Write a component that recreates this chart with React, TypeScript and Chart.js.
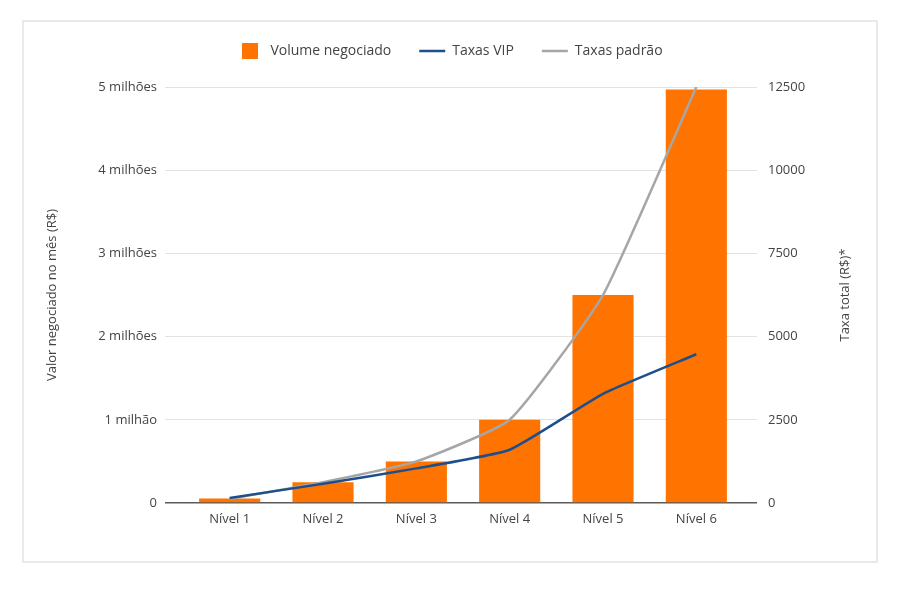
import { useEffect, useRef } from 'react';
import { Chart, registerables } from 'chart.js';

Chart.register(...registerables);

const levels = ['Nível 1', 'Nível 2', 'Nível 3', 'Nível 4', 'Nível 5', 'Nível 6'];
const volume = [55000, 250000, 500000, 1000000, 2500000, 4970000];
const vipFees = [150, 580, 1040, 1600, 3280, 4470];
const standardFees = [125, 625, 1250, 2500, 6250, 12500];

const leftTitle = 'Valor negociado no mês (R$)';
const rightTitle = 'Taxa total (R$)*';

const ORANGE = '#ff7300';
const BLUE = '#1d4f8c';
const GRAY = '#a6a6a6';
const TEXT = '#444444';
const FONT = '"Open Sans", sans-serif';

const gridColor = (ctx: any) => (ctx.tick && ctx.tick.value === 0 ? '#5a5a5a' : '#e2e2e2');
const gridWidth = (ctx: any) => (ctx.tick && ctx.tick.value === 0 ? 1.5 : 1);

function makeSquare() {
  const c = document.createElement('canvas');
  c.width = 16;
  c.height = 16;
  const g = c.getContext('2d');
  if (g) {
    g.fillStyle = ORANGE;
    g.fillRect(0, 0, 16, 16);
  }
  return c;
}

// keep the legend text high while leaving room before the plot area
const legendHeight = {
  id: 'legendHeight',
  beforeLayout(chart: any) {
    const lg = chart.legend;
    if (lg && !lg._patched) {
      const orig = lg.fit.bind(lg);
      lg.fit = () => {
        orig();
        lg.height = 71;
      };
      lg._patched = true;
    }
  },
};

// right axis title reads bottom-to-top like the left one
const rightAxisTitle = {
  id: 'rightAxisTitle',
  afterDraw(chart: any) {
    const s = chart.scales.y1;
    const { ctx, chartArea } = chart;
    ctx.save();
    ctx.translate(s.right - 31, (chartArea.top + chartArea.bottom) / 2);
    ctx.rotate(-Math.PI / 2);
    ctx.font = `13px ${FONT}`;
    ctx.fillStyle = TEXT;
    ctx.textAlign = 'center';
    ctx.textBaseline = 'middle';
    ctx.fillText(rightTitle, 0, 0);
    ctx.restore();
  },
};

export default function App() {
  const chartRef = useRef<HTMLCanvasElement>(null);

  useEffect(() => {
    if (!chartRef.current) return;

    const chart = new Chart(chartRef.current, {
      type: 'bar',
      data: {
        labels: levels,
        datasets: [
          {
            type: 'bar',
            label: 'Volume negociado',
            data: volume,
            backgroundColor: ORANGE,
            borderWidth: 0,
            barPercentage: 0.655,
            categoryPercentage: 1,
            yAxisID: 'y',
            order: 2,
            pointStyle: makeSquare(),
          },
          {
            type: 'line',
            label: 'Taxas VIP',
            data: vipFees,
            borderColor: BLUE,
            backgroundColor: BLUE,
            borderWidth: 2.5,
            pointRadius: 0,
            pointStyle: 'line',
            tension: 0.15,
            yAxisID: 'y1',
            order: 1,
          },
          {
            type: 'line',
            label: 'Taxas padrão',
            data: standardFees,
            borderColor: GRAY,
            backgroundColor: GRAY,
            borderWidth: 2.5,
            pointRadius: 0,
            pointStyle: 'line',
            tension: 0.15,
            yAxisID: 'y1',
            order: 1,
          },
        ],
      },
      options: {
        responsive: true,
        maintainAspectRatio: false,
        animation: false,
        layout: { padding: { top: -6, left: 0, right: 0, bottom: 0 } },
        plugins: {
          tooltip: { enabled: false },
          legend: {
            position: 'top',
            labels: {
              usePointStyle: true,
              pointStyleWidth: 26,
              padding: 28,
              color: TEXT,
              font: { family: FONT, size: 14 },
              sort: (a: any, b: any) => a.datasetIndex - b.datasetIndex,
            },
          },
        },
        scales: {
          x: {
            grid: { display: false, drawTicks: false },
            border: { display: false },
            ticks: { color: TEXT, padding: 8, font: { family: FONT, size: 13 } },
            afterFit: (s: any) => {
              s.height = 58;
            },
          },
          y: {
            position: 'left',
            min: 0,
            max: 5000000,
            ticks: {
              stepSize: 1000000,
              color: TEXT,
              padding: 8,
              font: { family: FONT, size: 13 },
              callback: (v: any) => (v === 0 ? '0' : v === 1000000 ? '1 milhão' : `${v / 1000000} milhões`),
            },
            grid: { color: gridColor, lineWidth: gridWidth, tickLength: 18 },
            border: { display: false },
            title: {
              display: true,
              text: leftTitle,
              color: TEXT,
              font: { family: FONT, size: 13 },
              padding: { top: 20, bottom: 0 },
            },
            afterFit: (s: any) => {
              s.width = 159;
            },
          },
          y1: {
            position: 'right',
            min: 0,
            max: 12500,
            ticks: {
              stepSize: 2500,
              color: TEXT,
              padding: 11,
              font: { family: FONT, size: 13 },
              callback: (v: any) => String(v),
            },
            grid: { drawOnChartArea: false, color: gridColor, lineWidth: gridWidth, tickLength: 14 },
            border: { display: false },
            title: { display: false },
            afterFit: (s: any) => {
              s.width = 133;
            },
          },
        },
      },
      plugins: [legendHeight, rightAxisTitle],
    });

    return () => {
      chart.destroy();
    };
  }, []);

  return (
    <div
      style={{
        position: 'absolute',
        left: 22,
        top: 20,
        width: 856,
        height: 543,
        border: '2px solid #e9e9e9',
        boxSizing: 'border-box',
        background: '#fff',
      }}
    >
      <div style={{ position: 'relative', width: '100%', height: '100%' }}>
        <canvas ref={chartRef} />
      </div>
    </div>
  );
}
